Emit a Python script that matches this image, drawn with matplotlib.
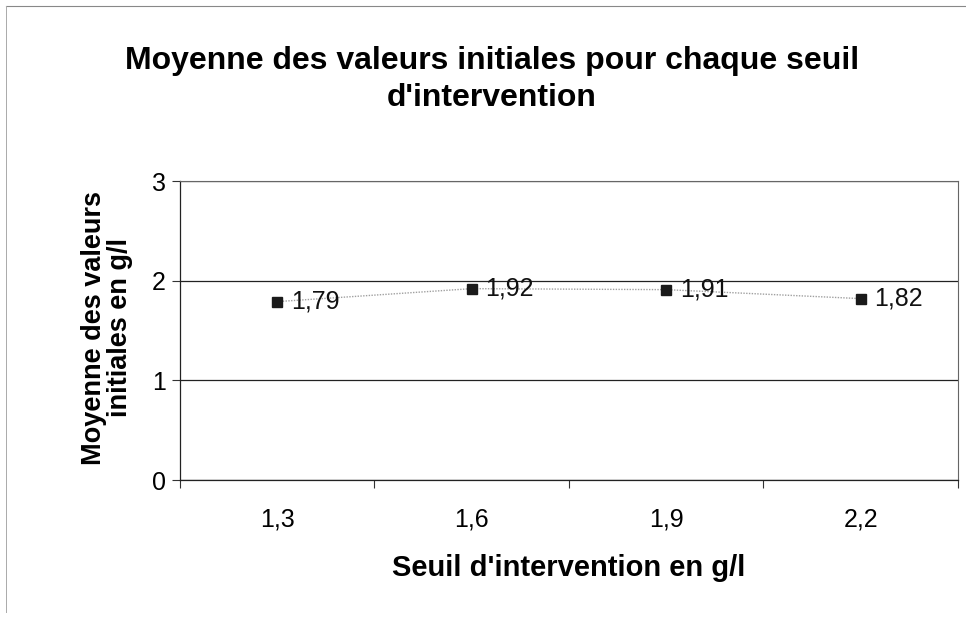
import matplotlib
matplotlib.use("Agg")
import matplotlib.pyplot as plt
from matplotlib.lines import Line2D
from matplotlib.transforms import Bbox

plt.rcParams['font.family'] = ['Liberation Sans', 'DejaVu Sans']

# data
seuils = ["1,3", "1,6", "1,9", "2,2"]
moyennes = [1.79, 1.92, 1.91, 1.82]
etiquettes = ["1,79", "1,92", "1,91", "1,82"]
y_ticks = [0, 1, 2, 3]

fig = plt.figure(figsize=(9.66, 6.18), dpi=100)
ax = fig.add_axes([0.1863, 0.2233, 0.8054, 0.4838])

pos = list(range(len(seuils)))
ax.plot(pos, moyennes, color="#a0a0a0", lw=1.0, ls=(0, (1, 1)), zorder=2)
ax.plot(pos, moyennes, ls="none", marker="s", ms=7, color="#1a1a1a", zorder=3)
for x, y, t in zip(pos, moyennes, etiquettes):
    ax.annotate(t, (x, y), xytext=(10, 0), textcoords="offset points",
                ha="left", va="center", fontsize=18, color="#111111")

ax.set_xlim(-0.5, len(seuils) - 0.5)
ax.set_ylim(0, 3)
ax.set_yticks(y_ticks)
ax.set_yticklabels([str(v) for v in y_ticks])
ax.set_xticks(pos)
ax.set_xticklabels(seuils)
ax.set_xticks([p - 0.5 for p in pos] + [len(seuils) - 0.5], minor=True)
ax.tick_params(axis="x", which="major", length=0, pad=20, labelsize=18)
ax.tick_params(axis="x", which="minor", length=6, width=0.8, direction="out", color="#333333")
ax.tick_params(axis="y", length=6, width=0.8, direction="out", pad=4, labelsize=18, color="#333333")

ax.grid(axis="y", color="#222222", lw=0.9)
ax.set_axisbelow(True)
for side in ["top", "right"]:
    ax.spines[side].set_color("#666666")
    ax.spines[side].set_linewidth(0.8)
for side in ["left", "bottom"]:
    ax.spines[side].set_color("#222222")
    ax.spines[side].set_linewidth(0.9)

ax.set_xlabel("Seuil d'intervention en g/l", fontsize=21, fontweight="bold", labelpad=16)

# y label is clipped at the top of the plot area in the original
ylab = fig.text(0.111, 0.47, "Moyenne des valeurs\ninitiales en g/l", rotation=90,
                ha="center", va="center", fontsize=19.5, fontweight="bold",
                linespacing=1.0)
ylab.set_clip_box(Bbox.from_extents(0, 0, 966, 618 - 186))
ylab.set_clip_on(True)

fig.text(0.509, 0.925, "Moyenne des valeurs initiales pour chaque seuil\nd'intervention",
         ha="center", va="top", fontsize=23, fontweight="bold", linespacing=1.28)

# chart area border (only top and left survive in the scan)
fig.add_artist(Line2D([0.006, 1.0], [0.99, 0.99], color="#888888", lw=0.8))
fig.add_artist(Line2D([0.006, 0.006], [0.01, 0.99], color="#aaaaaa", lw=0.7))

fig.savefig("out.png", dpi=100)
